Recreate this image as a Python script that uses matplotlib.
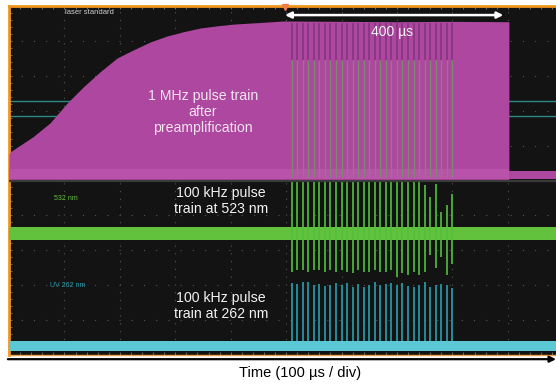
import matplotlib
matplotlib.use("Agg")
import matplotlib.pyplot as plt

plt.rcParams["font.family"] = ["Liberation Sans", "DejaVu Sans"]

# time axis in microseconds, vertical in screen divisions (0 = bottom, 10 = top)
env_t = [0, 2, 43, 74, 105, 134, 164, 195, 224, 255, 285, 314, 345, 375, 404, 435, 466, 495, 600, 700, 800, 902]
env_v = [5.75, 5.82, 6.25, 6.65, 7.22, 7.68, 8.11, 8.51, 8.74, 8.97, 9.14, 9.26, 9.37, 9.43, 9.48, 9.51, 9.54, 9.57, 9.56, 9.55, 9.56, 9.55]
mag_base = [5.03, 5.27]   # magenta baseline band after the burst ends
burst_end = 902

pulse_t = [510, 520, 530, 540, 550, 560, 570, 580, 590, 600,
           610, 620, 630, 640, 650, 660, 670, 680, 690, 700,
           710, 720, 730, 740, 750, 760, 770, 780, 790, 800]
green_top = [5.0, 5.0, 5.0, 5.0, 5.0, 5.0, 5.0, 5.0, 5.0, 5.0,
             5.0, 5.0, 5.0, 5.0, 5.0, 5.0, 5.0, 5.0, 5.0, 5.0,
             5.0, 5.0, 5.0, 5.0, 4.87, 4.54, 4.9, 4.11, 4.3, 4.6]
green_bot = [2.39, 2.44, 2.44, 2.39, 2.44, 2.44, 2.39, 2.44, 2.39, 2.44,
             2.39, 2.34, 2.44, 2.39, 2.39, 2.44, 2.39, 2.39, 2.44, 2.24,
             2.34, 2.29, 2.39, 2.29, 2.39, 2.87, 2.48, 2.82, 2.29, 2.6]
uv_top = [2.05, 2.03, 2.10, 2.08, 2.01, 2.03, 1.99, 2.01, 2.05, 2.01,
          2.05, 1.96, 2.03, 1.96, 2.01, 2.08, 2.01, 2.03, 2.05, 2.01,
          2.05, 1.99, 1.96, 2.01, 2.08, 1.96, 2.01, 2.03, 2.01, 1.91]
green_band = [3.30, 3.67]
uv_band = [0.11, 0.40]
ref_lines = [7.29, 6.85]

MAG = "#ae479f"
GREEN = "#62c23e"
CYAN = "#5cc8d6"
TEAL = "#2a9fae"

fig = plt.figure(figsize=(5.56, 3.84), dpi=100)
ax = fig.add_axes([9/556, 29/384, 547/556, 349/384])
ax.set_facecolor("#131313")
ax.set_xlim(0, 987)
ax.set_ylim(0, 10)

# graticule
for gx in range(100, 1000, 100):
    ax.axvline(gx, color="#555555", lw=0.8, ls=(0, (1, 6)), zorder=1)
for gy in range(1, 10):
    ax.axhline(gy, color="#555555", lw=0.8, ls=(0, (1, 10)), zorder=1)
ax.axhline(5.0, color="#3a3a3a", lw=1.6, zorder=4)

# reference level lines in the upper panel
for r in ref_lines:
    ax.axhline(r, color="#2b8c84", lw=1.0, zorder=2)

# magenta: 1 MHz train after preamp
ax.fill_between(env_t, mag_base[0], env_v, color=MAG, lw=0, zorder=3)
ax.fill_between([burst_end, 987], mag_base[0], mag_base[1], color=MAG, lw=0, zorder=3)
ax.fill_between(env_t, mag_base[0], mag_base[1] + 0.05, color="#b852aa", lw=0, zorder=3)
ax.vlines(pulse_t, 5.1, 8.45, color="#7b8c6e", lw=0.9, zorder=3.5)
ax.vlines(pulse_t, 8.45, 9.5, color="#8a3784", lw=1.4, zorder=3.5)

# green 523 nm
ax.axhspan(green_band[0], green_band[1], color=GREEN, lw=0, zorder=3)
ax.vlines(pulse_t, green_bot, green_top, color="#52c03e", lw=1.2, zorder=3)

# UV 262 nm
ax.axhspan(uv_band[0], uv_band[1], color=CYAN, lw=0, zorder=3)
ax.vlines(pulse_t, uv_band[1], uv_top, color=TEAL, lw=1.2, zorder=3)

# annotations
ax.text(350, 6.96, "1 MHz pulse train\nafter\npreamplification", color="#f0e4ef",
        fontsize=10.2, ha="center", va="center", linespacing=1.2, zorder=6)
ax.annotate("", xy=(892, 9.74), xytext=(498, 9.74),
            arrowprops=dict(arrowstyle="<|-|>", color="white", lw=1.8,
                            mutation_scale=9, shrinkA=0, shrinkB=0), zorder=6)
ax.text(691, 9.26, "400 µs", color="#f2f2f2", fontsize=10, ha="center", va="center", zorder=6)
ax.text(383, 4.41, "100 kHz pulse\ntrain at 523 nm", color="#f2f2f2",
        fontsize=10.2, ha="center", va="center", linespacing=1.15, zorder=6)
ax.text(383, 1.40, "100 kHz pulse\ntrain at 262 nm", color="#f2f2f2",
        fontsize=10.2, ha="center", va="center", linespacing=1.15, zorder=6)
ax.text(101, 9.8, "laser standard", color="#cfcfcf", fontsize=5.5, ha="left", va="center", zorder=6)
ax.text(81, 4.47, "532 nm", color=GREEN, fontsize=5, ha="left", va="center", zorder=6)
ax.text(74, 2.0, "UV 262 nm", color=TEAL, fontsize=5, ha="left", va="center", zorder=6)

# trigger marker
ax.plot([498], [9.97], marker="v", color="#f07a50", ms=5, clip_on=False, zorder=7)

# frame
ax.spines["right"].set_visible(False)
ax.spines["left"].set_color("#f0951e")
ax.spines["left"].set_linewidth(2)
ax.spines["top"].set_color("#f0951e")
ax.spines["top"].set_linewidth(2)
ax.spines["bottom"].set_color("#f0a040")
ax.spines["bottom"].set_linewidth(1)
ax.set_xticks([])
ax.set_yticks([])
ax.set_xticks(range(0, 1000, 20), minor=True)
ax.set_yticks([y / 5 for y in range(0, 50)], minor=True)
ax.tick_params(which="minor", direction="in", length=2.5, color="#777777",
               top=True, bottom=True, left=True, right=False,
               labelbottom=False, labelleft=False)

# time axis arrow below the screen
ax.annotate("", xy=(1.0, -0.012), xytext=(-0.002, -0.012), xycoords="axes fraction",
            arrowprops=dict(arrowstyle="-|>", color="black", lw=1.6, mutation_scale=9,
                            shrinkA=0, shrinkB=0), annotation_clip=False)
fig.text(300/556, 1 - 373/384, "Time (100 µs / div)", fontsize=10.5, ha="center", va="center")

fig.savefig("out.png", dpi=100)
